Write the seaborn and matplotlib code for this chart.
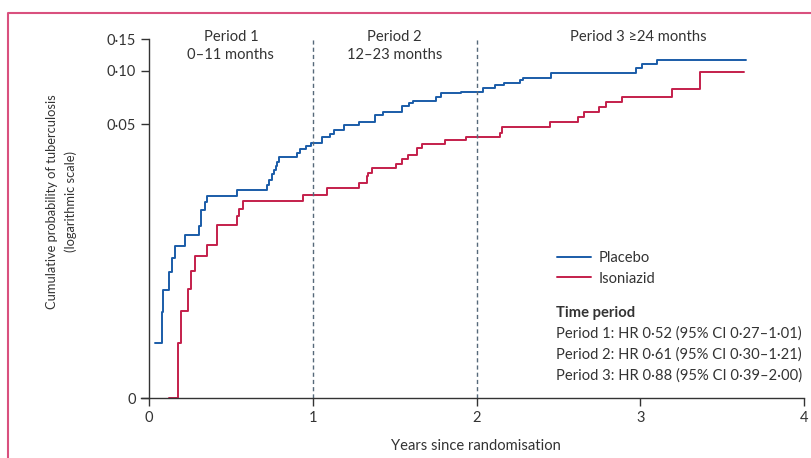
import numpy as np
import pandas as pd
import seaborn as sns
import matplotlib.pyplot as plt
from matplotlib.lines import Line2D

# step data: time (years) at which the curve jumps, and new cumulative probability
placebo_t = [0.037, 0.081, 0.087, 0.122, 0.139, 0.155, 0.216, 0.307, 0.316, 0.342, 0.356,
             0.537, 0.721, 0.729, 0.753, 0.765, 0.776, 0.782, 0.790, 0.902, 0.922, 0.959,
             0.988, 1.055, 1.105, 1.130, 1.193, 1.284, 1.378, 1.429, 1.547, 1.586, 1.610,
             1.753, 1.785, 1.907, 2.040, 2.113, 2.170, 2.266, 2.286, 2.453, 2.974, 3.009,
             3.104, 3.646]
placebo_p = [0.00299, 0.00446, 0.00597, 0.00747, 0.00902, 0.01049, 0.01199, 0.01358, 0.01670,
             0.01835, 0.01983, 0.02142, 0.02306, 0.02459, 0.02647, 0.02773, 0.02920, 0.03074,
             0.03295, 0.03440, 0.03621, 0.03789, 0.03949, 0.04266, 0.04395, 0.04628, 0.04955,
             0.05177, 0.05637, 0.0586, 0.0633, 0.0656, 0.0673, 0.0715, 0.0746, 0.0762, 0.0803,
             0.0827, 0.0849, 0.0886, 0.0909, 0.0969, 0.1030, 0.1084, 0.1152, 0.1152]

isoniazid_t = [0.118, 0.179, 0.195, 0.240, 0.255, 0.277, 0.352, 0.417, 0.536, 0.548, 0.576,
               0.939, 1.085, 1.284, 1.329, 1.339, 1.360, 1.508, 1.543, 1.583, 1.635, 1.667,
               1.806, 1.934, 2.144, 2.158, 2.449, 2.618, 2.656, 2.746, 2.791, 2.887, 3.192,
               3.365, 3.635]
isoniazid_p = [0.0, 0.00301, 0.00454, 0.00605, 0.00757, 0.00914, 0.01063, 0.01376, 0.01546,
               0.01692, 0.01858, 0.02018, 0.02198, 0.02357, 0.02566, 0.02681, 0.02859, 0.03023,
               0.03183, 0.03365, 0.03702, 0.03898, 0.04083, 0.04265, 0.04492, 0.04854, 0.05177,
               0.05494, 0.0589, 0.0628, 0.0670, 0.0711, 0.0792, 0.0982, 0.0982]

period_labels = ["Period 1\n0\u201311 months", "Period 2\n12\u201323 months", "Period 3 \u226524 months"]
hr_lines = ["Period 1: HR 0\u00b752 (95% CI 0\u00b727\u20131\u00b701)",
            "Period 2: HR 0\u00b761 (95% CI 0\u00b730\u20131\u00b721)",
            "Period 3: HR 0\u00b788 (95% CI 0\u00b739\u20132\u00b700)"]
ytick_vals = [0.0, 0.05, 0.10, 0.15]
ytick_labels = ["0", "0\u00b705", "0\u00b710", "0\u00b715"]

ZERO = 0.00148  # where "0" sits on the log axis
BLUE = "#1a5ca8"
RED = "#c41f4b"
TXT = "#333333"
FS = 10.6

df = pd.concat([
    pd.DataFrame({"t": placebo_t, "p": placebo_p, "arm": "Placebo"}),
    pd.DataFrame({"t": isoniazid_t, "p": isoniazid_p, "arm": "Isoniazid"}),
])
df["p"] = np.maximum(df["p"], ZERO)

sns.set_style("ticks")
plt.rcParams["font.family"] = ["Lato", "DejaVu Sans"]
plt.rcParams["font.size"] = FS

fig = plt.figure(figsize=(8.11, 4.58), dpi=100)
ax = fig.add_axes([141 / 811, 60 / 458, 663 / 811, 359 / 458])

sns.lineplot(data=df, x="t", y="p", hue="arm", palette={"Placebo": BLUE, "Isoniazid": RED},
             estimator=None, sort=False, drawstyle="steps-post", lw=1.4, legend=False, ax=ax)

ax.set_yscale("log")
ax.set_ylim(ZERO, 0.15)
ax.set_xlim(-0.05, 4)
ax.yaxis.set_minor_locator(plt.NullLocator())
ax.set_yticks([max(v, ZERO) for v in ytick_vals], ytick_labels)
ax.set_xticks([0, 1, 2, 3, 4], ["0", "1", "2", "3", "4"])
ax.tick_params(colors=TXT, labelcolor=TXT, labelsize=10.5, length=6, width=1)

sns.despine(ax=ax)
ax.spines["left"].set_position(("data", 0))
for s in ["left", "bottom"]:
    ax.spines[s].set_color(TXT)
    ax.spines[s].set_linewidth(1)

ax.vlines([1, 2], ZERO, 0.155, colors="#56697a", linestyles=(0, (3, 2.2)), lw=1)

ax.set_xlabel("Years since randomisation", color=TXT, fontsize=FS)
ax.set_ylabel("Cumulative probability of tuberculosis\n(logarithmic scale)", color=TXT,
              fontsize=9.3, linespacing=1.6)
ax.xaxis.set_label_coords(0.505, -0.115)
ax.yaxis.set_label_coords(-0.097, 0.546)

# period headings
for x, lab in zip([0.5, 1.5, 2.99], period_labels):
    fig.text((149 + x * 163.75) / 811, 1 - 30 / 458, lab, ha="center", va="top",
             color=TXT, fontsize=FS, linespacing=1.4)

handles = [Line2D([], [], color=BLUE, lw=1.4), Line2D([], [], color=RED, lw=1.4)]
ax.legend(handles, ["Placebo", "Isoniazid"], loc="upper left", frameon=False,
          bbox_to_anchor=(557 / 811, 1 - 251 / 458), bbox_transform=fig.transFigure,
          borderpad=0, borderaxespad=0, handlelength=2.3, handletextpad=0.5,
          labelspacing=0.45, fontsize=FS, labelcolor=TXT)

fig.text(556 / 811, 1 - 313 / 458, "Time period", fontweight="bold", color=TXT,
         fontsize=FS, va="center")
for i, line in enumerate(hr_lines):
    fig.text(556 / 811, 1 - (334 + 21 * i) / 458, line, color=TXT, fontsize=FS, va="center")

# pink frame on left and top
fig.add_artist(Line2D([8 / 811, 8 / 811, 1], [0, 1 - 13 / 458, 1 - 13 / 458],
                      transform=fig.transFigure, color="#d9507e", lw=1.5))

fig.savefig("out.png", dpi=100)
